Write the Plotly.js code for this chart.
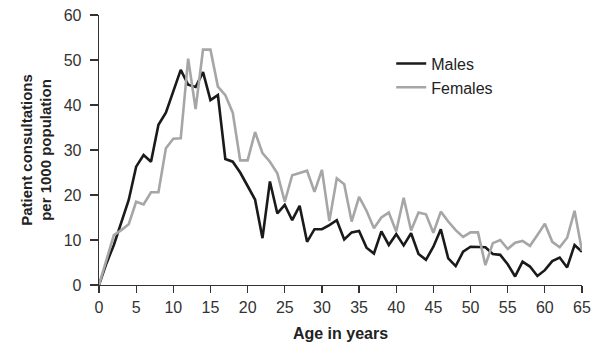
<!DOCTYPE html>
<html>
<head>
<meta charset="utf-8">
<script src="https://cdn.plot.ly/plotly-3.0.1.min.js"></script>
<style>html,body{margin:0;padding:0;background:#fff;}#chart{width:597px;height:347px;}</style>
</head>
<body>
<div id="chart"></div>
<script>
const ages = [];
for (let a = 0; a <= 65; a++) ages.push(a);

const males = [0, 4.8, 8.9, 14.1, 18.9, 26.3, 28.9, 27.4, 35.6, 38.3,
  43, 47.8, 44.5, 44, 47.3, 41.1, 42.2, 28, 27.4, 25,
  22, 19, 10.4, 23.0, 15.9, 17.8, 14.4, 17.6, 9.6, 12.4,
  12.4, 13.3, 14.4, 10.1, 11.7, 12.0, 8.3, 7.0, 11.9, 8.9,
  11.3, 8.8, 11.5, 6.9, 5.6, 8.5, 12.4, 5.9, 4.2, 7.4,
  8.5, 8.5, 8.4, 6.9, 6.7, 4.6, 1.9, 5.2, 4.1, 2.0,
  3.3, 5.3, 6.1, 3.9, 8.9, 7.4];

const females = [0, 5.5, 11.1, 12.2, 13.5, 18.5, 17.9, 20.6, 20.6, 30.4,
  32.5, 32.6, 50.3, 39.1, 52.3, 52.3, 44.1, 42.2, 38.3, 27.7,
  27.7, 34.0, 29.3, 27.4, 24.8, 18.5, 24.4, 24.9, 25.4, 20.7,
  25.6, 14.2, 23.7, 22.4, 14.1, 19.6, 16.5, 12.6, 15.0, 16.1,
  11.9, 19.4, 12.1, 16.1, 15.7, 11.6, 16.3, 14.1, 12.2, 10.7,
  11.7, 11.7, 4.4, 9.3, 10.0, 8.0, 9.4, 9.8, 8.7, 11.1,
  13.6, 9.6, 8.4, 10.5, 16.5, 7.6];

const xTicks = [0, 5, 10, 15, 20, 25, 30, 35, 40, 45, 50, 55, 60, 65];
const yTicks = [0, 10, 20, 30, 40, 50, 60];

const traces = [
  {x: ages, y: males, name: 'Males', type: 'scatter', mode: 'lines',
   line: {color: '#1a1a1a', width: 2.6}},
  {x: ages, y: females, name: 'Females', type: 'scatter', mode: 'lines',
   line: {color: '#a6a6a6', width: 2.6}}
];

const fam = 'Liberation Sans, Arial, sans-serif';
const axisFont = {family: fam, size: 16, color: '#333'};
const layout = {
  width: 597, height: 347,
  margin: {l: 99, r: 15, t: 15, b: 62},
  paper_bgcolor: '#fff', plot_bgcolor: '#fff',
  font: axisFont,
  showlegend: true,
  legend: {x: 0.605, y: 0.883, xanchor: 'left', yanchor: 'top',
    bgcolor: 'rgba(0,0,0,0)', font: {family: fam, size: 16, color: '#222'},
    tracegroupgap: 0},
  xaxis: {range: [0, 65], tickvals: xTicks, ticktext: xTicks.map(String),
    showgrid: false, zeroline: false, showline: true, linecolor: '#333', linewidth: 1.3,
    ticks: 'outside', ticklen: 7, tickcolor: '#333', tickwidth: 1.3,
    tickfont: axisFont,
    title: {text: '<b>Age in years</b>', font: {family: fam, size: 16, color: '#222'}, standoff: 13}},
  yaxis: {range: [0, 60], tickvals: yTicks, ticktext: yTicks.map(String),
    showgrid: false, zeroline: false, showline: true, linecolor: '#333', linewidth: 1.3,
    ticks: 'outside', ticklen: 8, tickcolor: '#333', tickwidth: 1.3,
    ticklabelstandoff: 5,
    tickfont: axisFont,
    title: {text: '<b>Patient consultations<br>per 1000 population</b>', font: {family: fam, size: 15, color: '#222'}, standoff: 8}}
};

Plotly.newPlot('chart', traces, layout, {displayModeBar: false, staticPlot: true});
</script>
</body>
</html>
